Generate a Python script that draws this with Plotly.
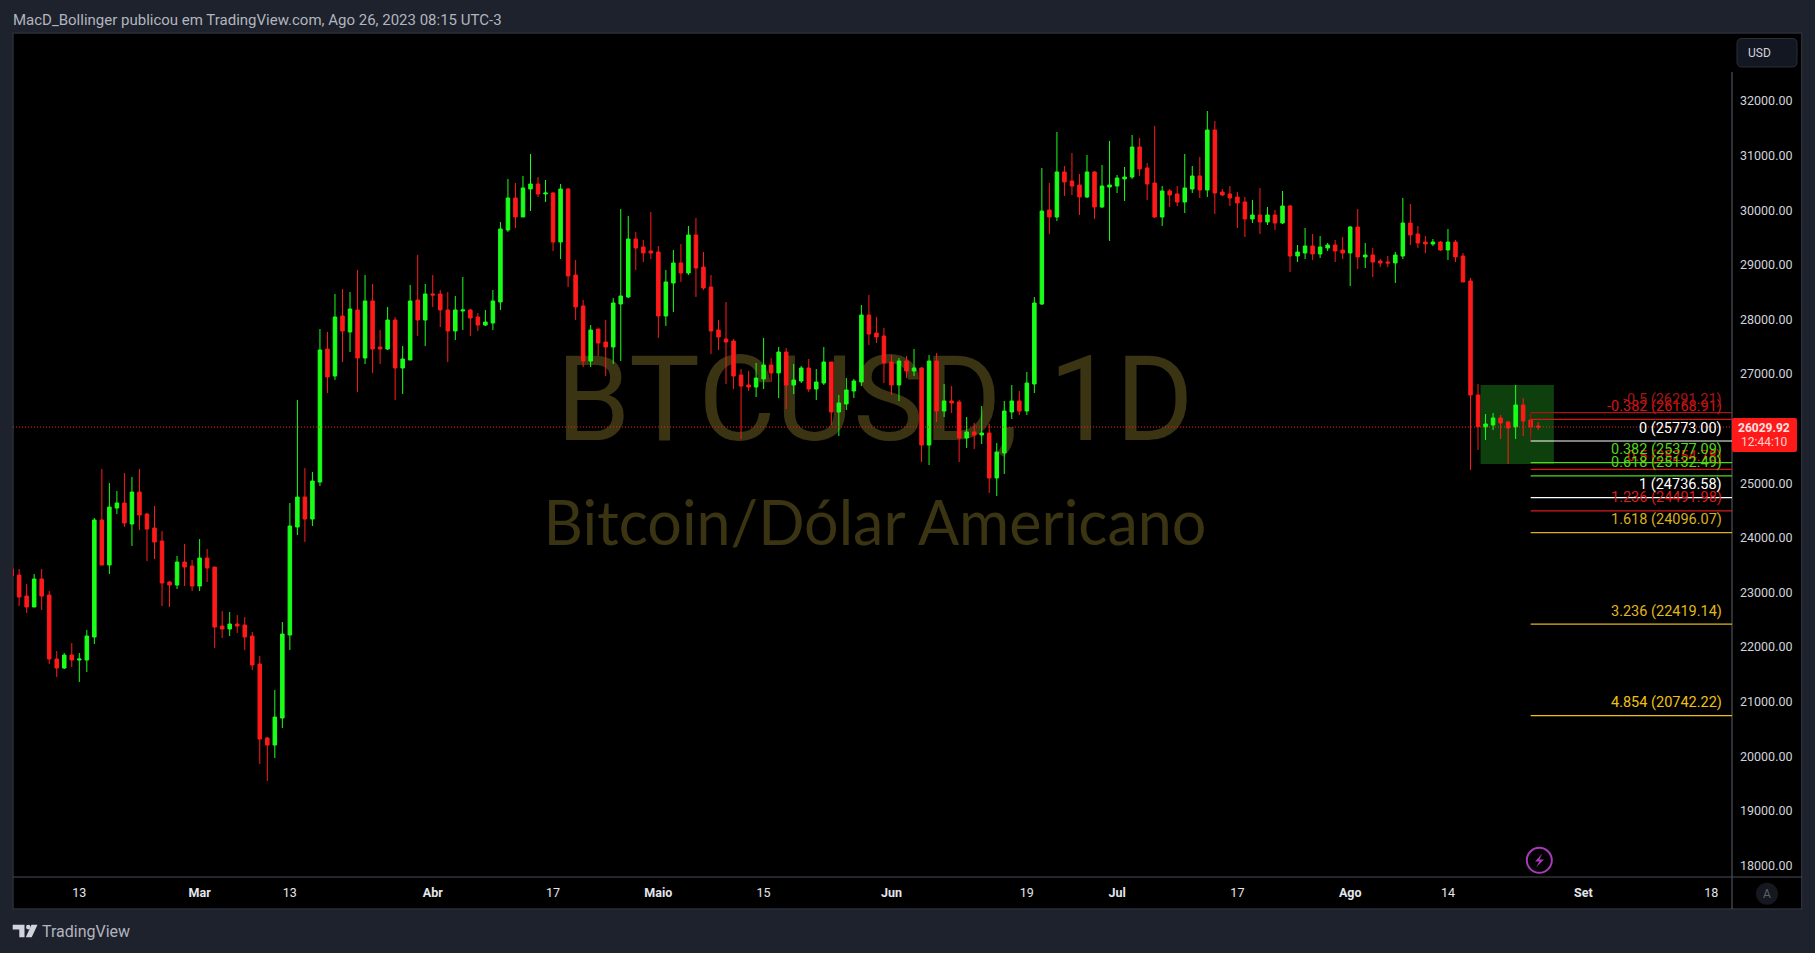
import pandas as pd
import plotly.graph_objects as go

W, H = 1815, 953
PL, PR, PT, PB = 13, 1732, 33, 877

dates = pd.date_range("2023-02-04", "2023-08-26", freq="D")

highs = [
 23428,23428,23153,23336,23428,23025,21926,21889,22072,21889,
 22310,24362,25260,25003,24857,25187,25113,25260,24454,24582,
 24124,23208,23666,23886,23593,23977,23794,23464,22658,22640,
 22585,22548,22274,21834,20350,21211,22457,24637,26524,25278,
 25204,27825,27770,28466,28557,28502,28905,28814,28649,27806,
 28228,28044,27513,28631,29180,28649,28814,28539,28502,28429,
 28777,28191,28118,28173,28539,29785,30573,30499,30628,31031,
 30609,30554,30334,30481,30408,29089,28356,27898,27825,27989,
 28392,30023,29895,29602,29455,29968,29345,28905,29272,29382,
 29712,29858,29235,28814,27989,28319,27641,27092,27055,27202,
 27660,27293,27495,27477,27183,27147,27275,27092,27495,27220,
 26616,26927,26909,28264,28448,28044,27843,27348,27293,27330,
 27458,27128,27348,27385,26817,26780,26524,26212,26102,26414,
 26084,25736,26506,26799,26689,27037,28411,30774,30499,31434,
 30811,31049,30664,31012,30719,30829,31269,30646,30793,31379,
 31324,30866,31544,30444,30389,30444,31031,30811,30976,31818,
 31635,30389,30444,30334,30243,30188,30408,30060,30005,30353,
 30096,29363,29675,29565,29528,29400,29455,29510,29712,30023,
 29400,29309,29107,29162,29235,30225,30115,29712,29528,29473,
 29437,29657,29455,29217,28759,26817,26268,26286,26250,26140,
 26799,26561,26158,26121,
]
body_tops = [
 23428,23318,22933,23245,23245,22951,21779,21852,21852,21779,
 22200,24326,24326,24564,24637,24637,24838,24838,24435,24179,
 23941,23190,23556,23556,23483,23629,23629,23464,22384,22420,
 22420,22402,22200,21687,20332,20716,22237,24216,24746,24746,
 25040,27440,27458,28044,28063,28191,28173,28338,28338,27495,
 27989,27989,27275,28338,28356,28466,28466,28466,28173,28173,
 28173,28173,28044,27953,28338,29657,30225,30225,30408,30481,
 30481,30316,30316,30389,30389,28814,28246,27806,27825,27586,
 28301,28429,29473,29473,29327,29254,29235,28686,29034,29034,
 29547,29547,28960,28594,27806,27641,27605,26982,26799,26927,
 27165,27165,27403,27403,26890,27110,27110,26854,27220,27220,
 26469,26707,26872,28081,28081,27751,27696,27220,27238,27238,
 27110,27110,27238,27238,26506,26506,26487,25938,25938,25919,
 25919,25571,26322,26506,26506,26835,28301,29986,30005,30701,
 30701,30536,30463,30701,30701,30444,30463,30591,30609,31159,
 31159,30774,30499,30353,30353,30298,30408,30628,30628,31470,
 31470,30334,30298,30243,30151,29913,29913,29913,29913,30078,
 30078,29235,29345,29345,29327,29363,29363,29272,29693,29693,
 29180,29180,29070,29052,29180,29766,29766,29565,29418,29418,
 29418,29418,29418,29162,28704,26616,26085,26195,26195,26121,
 26433,26433,26158,26048,
]
body_bottoms = [
 23300,22915,22732,22732,22933,21779,21614,21614,21761,21761,
 21761,22182,23501,23501,24545,24271,24252,24417,24161,23922,
 23171,23135,23135,23464,23116,23116,23446,22365,22329,22329,
 22384,22182,21669,20313,20203,20203,20698,22219,24197,24343,
 24343,25021,26945,26963,27788,27770,27293,27293,27458,27458,
 27458,27110,27110,27257,27989,27989,28447,28173,27788,27788,
 28154,28026,27898,27898,27934,28319,29638,29877,29877,30389,
 30298,30298,29418,29418,28796,28228,27238,27238,27568,27495,
 27495,28283,28411,29309,29217,29217,28063,28063,28667,28851,
 28851,28942,28576,27788,27678,27586,26963,26780,26762,26762,
 26909,27019,27019,26799,26799,26872,26725,26725,26835,26304,
 26304,26451,26689,26854,27733,27678,27202,26799,26799,27055,
 27055,25699,25699,26322,26322,26469,25828,25828,25883,25883,
 25095,25095,25553,26304,26322,26322,26817,28282,29876,29876,
 30518,30444,30243,30243,30060,30060,30426,30444,30573,30609,
 30756,30481,29876,29876,30280,30151,30151,30389,30371,30371,
 30316,30280,30225,30133,29840,29840,29785,29785,29767,29767,
 29162,29162,29217,29199,29199,29308,29254,29217,29217,29144,
 29144,29052,29034,29034,29034,29162,29547,29400,29382,29382,
 29272,29272,29144,28686,26615,26036,26030,26066,26103,26011,
 26030,26140,26030,26029.92,
]
lows = [
 23300,22750,22622,22732,22677,21687,21449,21596,21632,21358,
 21541,22054,23501,23336,24435,24197,23849,24142,23574,23611,
 22750,22732,23061,23116,23025,23025,23190,21980,22164,22200,
 22255,21944,21577,19855,19544,19965,20515,21944,24050,23922,
 24215,24948,26652,26890,27220,27403,26670,27183,27018,27183,
 27440,26524,26634,27257,27696,27513,28228,27861,27220,27623,
 27806,27696,27788,27880,27806,28173,29602,29675,29877,29986,
 30243,30151,29254,29107,28594,27989,27128,27128,27330,26963,
 27183,27238,28392,28905,29052,29107,27660,27880,28136,28686,
 28814,28411,28539,27366,27440,26817,26725,25809,26689,26579,
 26725,26854,26560,26359,26634,26835,26670,26524,26799,26066,
 25864,26341,26560,26780,27532,27568,26835,26616,26505,26927,
 26964,25388,25333,26121,26212,26286,25388,25644,25626,25718,
 24820,24765,25168,26176,26249,26249,26652,28264,29565,29803,
 30261,30280,29913,30225,29840,30041,29437,30316,30170,30573,
 30628,30188,29858,29712,30060,30078,29950,30316,30225,30243,
 29931,30261,30078,29675,29510,29767,29565,29730,29638,29748,
 28869,29052,29107,29089,29125,29254,29052,29107,28612,28924,
 28942,28777,28960,28960,28667,29107,29363,29309,29217,29345,
 29254,29089,29052,28686,25242,25608,25792,25975,25810,25352,
 25810,25865,25883,25975,
]
directions = (
 "rrrgrrrgrg" "ggrggrgrrr" "rrgrrgrrrg" "rrrrrggggr" "ggrgrgrgrr"
 "grggrgrrrg" "grrggggrgg" "rgrgrrrgrr" "gggrrrrggr" "grrrrrrrrg"
 "grgrggrggr" "ggggrrrrgr" "grgrgrrgrg" "rgggrgggrg" "rrrgrggggg"
 "rrrgrrggrg" "rrrrrgrgrg" "rggrggrrgr" "grrrggrrrg" "rgrrrrggrr"
 "grrr"
)

fib_labels = ["-0.5", "-0.382", "0", "0.382", "0.5", "0.618", "1", "1.236", "1.618", "3.236", "4.854"]
fib_prices = [26291.21, 26168.91, 25773.00, 25377.09, 25254.78, 25132.49, 24736.58, 24491.98, 24096.07, 22419.14, 20742.22]
fib_colors = ["#a81414", "#d81414", "#ffffff", "#4fd916", "#e01414", "#4fd916", "#ffffff", "#d81c1c", "#d8b020", "#e0b818", "#f0c010"]
fib_text_order = [1, 0, 2, 4, 3, 5, 7, 6, 8, 9, 10]

date_ticks = ["2023-02-13", "2023-03-01", "2023-03-13", "2023-04-01", "2023-04-17", "2023-05-01", "2023-05-15",
              "2023-06-01", "2023-06-19", "2023-07-01", "2023-07-17", "2023-08-01", "2023-08-14", "2023-09-01", "2023-09-18"]
date_labels = ["13", "<b>Mar</b>", "13", "<b>Abr</b>", "17", "<b>Maio</b>", "15", "<b>Jun</b>", "19", "<b>Jul</b>",
               "17", "<b>Ago</b>", "14", "<b>Set</b>", "18"]
price_ticks = list(range(18000, 33000, 1000))

last_price = 26029.92
box_start, box_end = "2023-08-18 08:00", "2023-08-28 02:00"
box_high, box_low = 26799, 25352
fib_start = "2023-08-25"
x_range = ["2023-02-04 04:25", "2023-09-20 18:30"]
y_range = [17786, 33247]

GREEN, RED = "#19ff19", "#ff1a1a"
BG, EDGE = "#1e222d", "#2a2e39"
FONT = "Roboto"

opens = [b if d == "g" else t for t, b, d in zip(body_tops, body_bottoms, directions)]
closes = [t if d == "g" else b for t, b, d in zip(body_tops, body_bottoms, directions)]
assert len(dates) == len(highs) == len(lows) == len(opens) == len(closes) == len(directions)


def px(x):
    return (x - PL) / (PR - PL)


def py(y):
    return (PB - y) / (PB - PT)


def paper_path(points, close=True):
    d = ""
    for i, (a, b) in enumerate(points):
        d += ("M" if i == 0 else "L") + f"{px(a):.5f},{py(b):.5f} "
    return d + ("Z" if close else "")


def rounded(x0, y0, x1, y1, r):
    k = [(x0 + r, y0), (x1 - r, y0), (x1, y0), (x1, y0 + r), (x1, y1 - r), (x1, y1), (x1 - r, y1), (x0 + r, y1), (x0, y1), (x0, y1 - r), (x0, y0 + r), (x0, y0)]
    f = lambda p: f"{px(p[0]):.5f},{py(p[1]):.5f}"
    return (f"M{f(k[0])} L{f(k[1])} Q{f(k[2])} {f(k[3])} L{f(k[4])} Q{f(k[5])} {f(k[6])} "
            f"L{f(k[7])} Q{f(k[8])} {f(k[9])} L{f(k[10])} Q{f(k[11])} {f(k[0])} Z")


def pshape(**kw):
    return dict(xref="paper", yref="paper", **kw)


def pline(x0, y0, x1, y1, color, width=1):
    return pshape(type="line", x0=px(x0), y0=py(y0), x1=px(x1), y1=py(y1), line=dict(color=color, width=width))


shapes = [
    pshape(type="rect", x0=px(13), y0=py(33), x1=px(1801.7), y1=py(909), fillcolor="#000000",
           line=dict(color=EDGE, width=1.5), layer="below"),
    pshape(type="rect", x0=px(375), y0=py(339), x1=px(1375), y1=py(441), fillcolor="rgba(0,0,0,0)", line=dict(width=0),
           layer="below", label=dict(text="BTCUSD, 1D", textposition="middle center",
                                     font=dict(family="Roboto", size=119, color="#3a3412"))),
    pshape(type="rect", x0=px(375), y0=py(480), x1=px(1375), y1=py(560), fillcolor="rgba(0,0,0,0)", line=dict(width=0),
           layer="below", label=dict(text="Bitcoin/Dólar Americano", textposition="middle center",
                                     font=dict(family="Lato", size=61, color="#3a3412"))),
    dict(type="rect", xref="x", yref="y", x0=box_start, x1=box_end, y0=box_low, y1=box_high,
         fillcolor="#0e400e", line=dict(width=0), layer="below"),
    dict(type="line", xref="x", yref="paper", x0=fib_start, x1=fib_start,
         y0=py(413.3), y1=py(441.3), line=dict(color="#a81414", width=1)),
    dict(type="line", xref="paper", yref="y", x0=0, x1=1, y0=last_price, y1=last_price,
         line=dict(color=RED, width=1, dash="1px,2px")),
    pline(PR, 72, PR, 909, "#5d606b"),
    pline(13, 877, 1801.7, 877, "#4a4d57"),
]
for price, color in zip(fib_prices, fib_colors):
    shapes.append(dict(type="line", xref="x", yref="y", x0=fib_start, x1=x_range[1], y0=price, y1=price,
                       line=dict(color=color, width=1.2)))

shapes += [
    pshape(type="path", path=rounded(1732, 418, 1797, 452, 2), fillcolor="#ff1a1a", line=dict(width=0)),
    pshape(type="path", path=rounded(1737, 38.5, 1797, 67, 5), fillcolor="#131722", line=dict(color=EDGE, width=1)),
    pshape(type="circle", x0=px(1526.8), x1=px(1551.8), y0=py(847.8), y1=py(872.8), fillcolor="rgba(0,0,0,0)",
           line=dict(color="#a83bb8", width=2)),
    pshape(type="path", path=paper_path([(1542.3, 853.5), (1535, 861.5), (1539.4, 861.5), (1536, 867.5), (1544, 859.5), (1539.4, 859.5)]),
           fillcolor="#a83bb8", line=dict(width=0)),
    pshape(type="circle", x0=px(1756), x1=px(1778), y0=py(882.7), y1=py(904.7), fillcolor="#16181f", line=dict(width=0)),
    pshape(type="path", path=paper_path([(12.7, 924.7), (24.5, 924.7), (24.5, 937.3), (19.3, 937.3), (19.3, 929.5), (12.7, 929.5)]),
           fillcolor="#d1d4dc", line=dict(width=0)),
    pshape(type="circle", x0=px(26), x1=px(30.6), y0=py(924.8), y1=py(929.4), fillcolor="#d1d4dc", line=dict(width=0)),
    pshape(type="path", path=paper_path([(31.5, 924.7), (37.5, 924.7), (31.7, 937.3), (25.8, 937.3)]),
           fillcolor="#d1d4dc", line=dict(width=0)),
]


def ptext(x, y, text, size, color, anchor="left", family=FONT):
    return dict(xref="paper", yref="paper", x=px(x), y=py(y), text=text, showarrow=False, xanchor=anchor, yanchor="middle",
                font=dict(family=family, size=size, color=color), borderpad=0)


annotations = [
    ptext(11.5, 20, "MacD_Bollinger publicou em TradingView.com, Ago 26, 2023 08:15 UTC-3", 15, "#b2b5be"),
    ptext(1747, 52.5, "USD", 12, "#d1d4dc"),
    ptext(1764.5, 427.7, "<b>26029.92</b>", 12, "#ffe0e0", "center"),
    ptext(1764.5, 442.3, "12:44:10", 12, "#ffd0d0", "center"),
    ptext(1767, 893.7, "A", 12, "#5d606b", "center"),
    ptext(41, 931, "TradingView", 16, "#b2b5be"),
]
for i in fib_text_order:
    annotations.append(dict(xref="paper", yref="y", x=px(1723), y=fib_prices[i], yshift=13,
                            text=f"{fib_labels[i]} ({fib_prices[i]:.2f})", showarrow=False, xanchor="right", yanchor="middle",
                            font=dict(family=FONT, size=14.5, color=fib_colors[i]), borderpad=0))

fig = go.Figure(go.Candlestick(
    x=dates, open=opens, high=highs, low=lows, close=closes,
    increasing=dict(line=dict(color=GREEN, width=1), fillcolor=GREEN),
    decreasing=dict(line=dict(color=RED, width=1), fillcolor=RED),
    whiskerwidth=0, showlegend=False,
))
fig.update_layout(
    width=W, height=H, autosize=False,
    margin=dict(l=PL, r=W - PR, t=PT, b=H - PB, pad=0),
    paper_bgcolor=BG, plot_bgcolor="#000000",
    boxgap=0.33, showlegend=False,
    font=dict(family=FONT, color="#d1d4dc", size=12),
    shapes=shapes, annotations=annotations,
    xaxis=dict(type="date", range=x_range, rangeslider=dict(visible=False), showgrid=False, zeroline=False, showline=False,
               tickmode="array", tickvals=date_ticks, ticktext=date_labels, ticks="", ticklabelstandoff=6,
               tickfont=dict(family=FONT, size=12.5, color="#e4e6ec")),
    yaxis=dict(range=y_range, side="right", showgrid=False, zeroline=False, showline=False, tickmode="array",
               tickvals=price_ticks, ticktext=[f"{v:.2f}" for v in price_ticks], ticks="", ticklabelstandoff=7,
               tickfont=dict(family=FONT, size=12.5, color="#d1d4dc")),
)
fig.write_html("out.html", config={"displayModeBar": False},
               post_script="document.body.style.margin='0';document.body.style.background='#1e222d';")
